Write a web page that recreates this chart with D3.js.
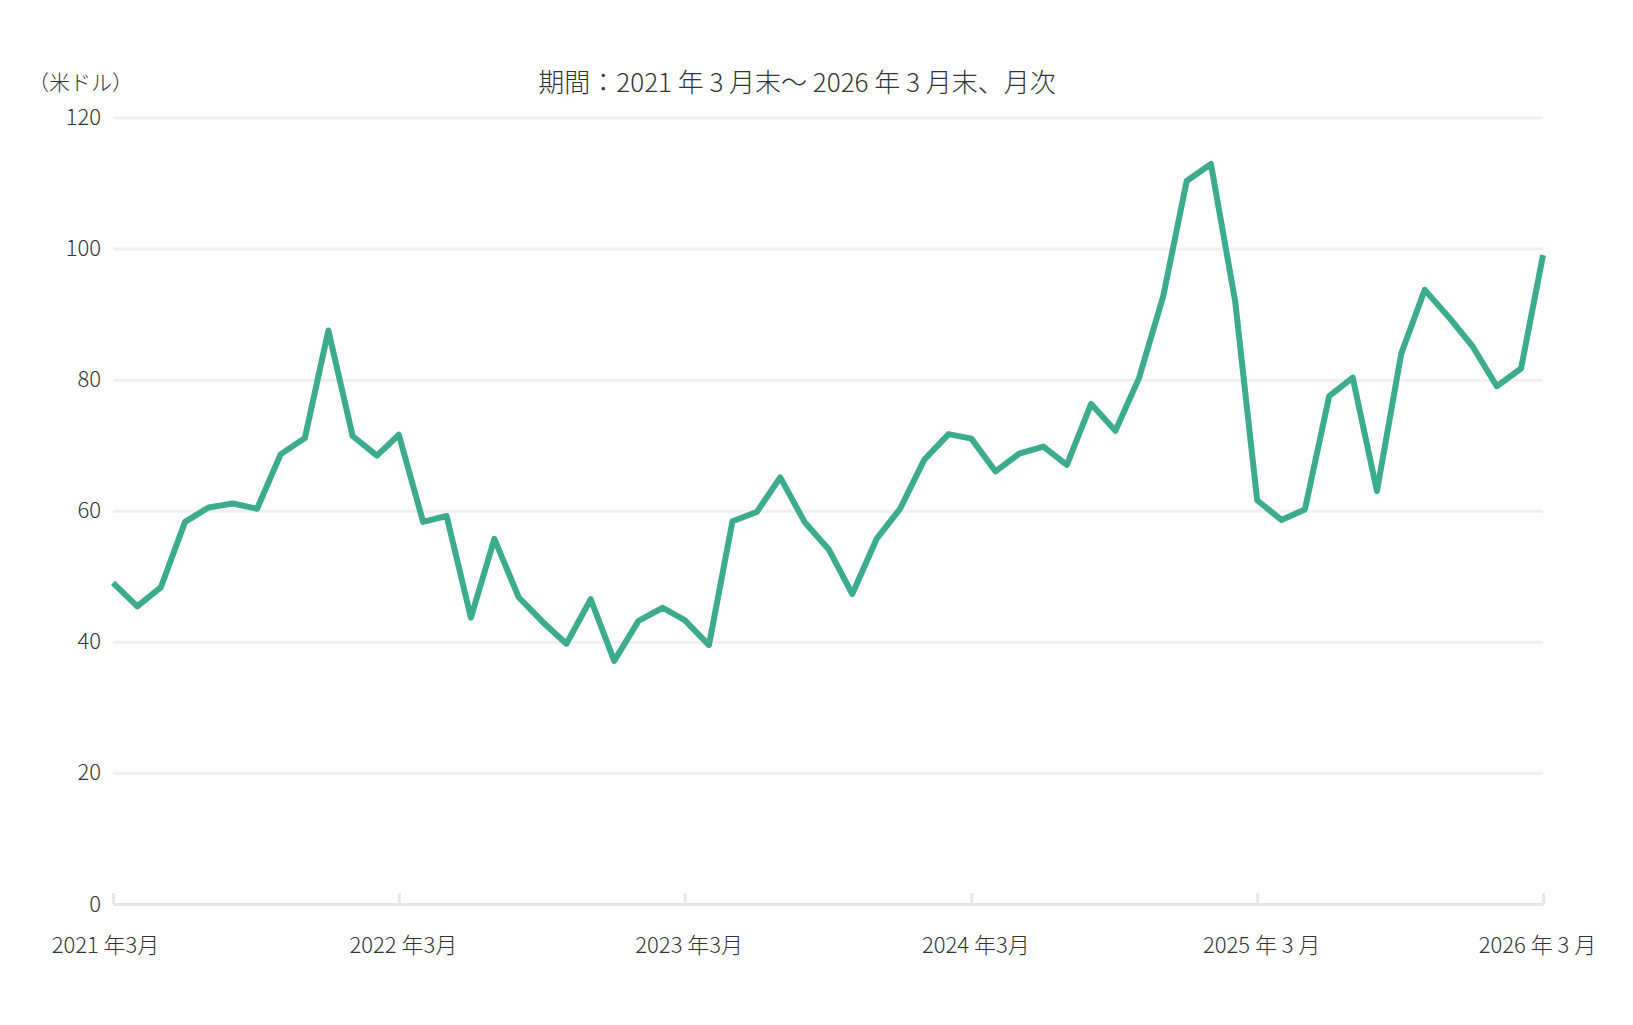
<!DOCTYPE html>
<html lang="ja">
<head>
<meta charset="utf-8">
<script src="https://cdn.jsdelivr.net/npm/d3@7"></script>
<style>
  html, body { margin: 0; padding: 0; background: #fff; }
  svg { display: block; font-family: "Noto Sans CJK JP", "Noto Sans", sans-serif; font-weight: 300; }
</style>
</head>
<body>
<svg id="chart" width="1633" height="1025"></svg>
<script>
/// data: month-end values (US dollars), 2021-03 .. 2026-03
var startMonth = "2021-03", endMonth = "2026-03";
var values = [
  49.0, 45.4, 48.3, 58.3, 60.5, 61.1, 60.3, 68.6, 71.1, 87.5, 71.4, 68.4,
  71.6, 58.3, 59.2, 43.7, 55.7, 46.8, 43.0, 39.7, 46.5, 37.1, 43.2, 45.2,
  43.3, 39.5, 58.4, 59.8, 65.1, 58.3, 54.1, 47.3, 55.7, 60.3, 67.8, 71.7,
  71.0, 66.0, 68.7, 69.8, 67.0, 76.3, 72.2, 80.2, 92.7, 110.3, 112.9, 91.9,
  61.6, 58.6, 60.2, 77.5, 80.3, 63.0, 84.0, 93.7, 89.5, 85.1, 79.0, 81.7,
  99.0
];
var yTicks = [0, 20, 40, 60, 80, 100, 120];
var xTickMonths = ["2021-03", "2022-03", "2023-03", "2024-03", "2025-03", "2026-03"];
var xTickLabels = ["2021 年3月", "2022 年3月", "2023 年3月", "2024 年3月", "2025 年 3 月", "2026 年 3 月"];
var titleText = "期間：2021 年 3 月末～ 2026 年 3 月末、月次";
var unitText = "（米ドル）";

var parse = d3.timeParse("%Y-%m");
var months = d3.timeMonth.range(parse(startMonth), d3.timeMonth.offset(parse(endMonth), 1));
var series = months.map(function(m, i) { return { date: m, value: values[i] }; });

var svg = d3.select("#chart");
// note: "top" is taken by window.top, so plot edges get their own names
var plotLeft = 113, plotRight = 1543, plotTop = 117.5, plotBottom = 904;

var x = d3.scaleTime()
    .domain([parse(startMonth), parse(endMonth)])
    .range([plotLeft, plotRight]);
var y = d3.scaleLinear()
    .domain([0, 120])
    .range([plotBottom, plotTop]);

svg.append("rect").attr("width", 1633).attr("height", 1025).attr("fill", "#fff");

// gridlines + y labels
var gy = svg.append("g")
    .attr("transform", "translate(" + plotLeft + ",0)")
    .call(d3.axisLeft(y).tickValues(yTicks).tickSize(-(plotRight - plotLeft)).tickPadding(12));
gy.select(".domain").remove();
gy.selectAll(".tick line").attr("stroke", "#efefef").attr("stroke-width", 3);
gy.selectAll(".tick text")
    .attr("fill", "#333")
    .style("font-size", "22px")
    .style("font-weight", "300")
    .style("font-family", "'Noto Sans CJK JP', sans-serif");

// x axis with upward ticks
var gx = svg.append("g")
    .attr("transform", "translate(0," + plotBottom + ")")
    .call(d3.axisBottom(x)
      .tickValues(xTickMonths.map(parse))
      .tickFormat(function(d, i) { return xTickLabels[i]; })
      .tickSizeInner(-11)
      .tickSizeOuter(0)
      .tickPadding(33));
gx.select(".domain").attr("stroke", "#e6e6e6").attr("stroke-width", 3);
gx.selectAll(".tick line").attr("stroke", "#e6e6e6").attr("stroke-width", 3);
gx.selectAll(".tick text")
    .attr("fill", "#333")
    .attr("dx", function(d, i) { return i === 0 ? -8 : (i === xTickLabels.length - 1 ? -6 : 4); })
    .style("font-size", "22px")
    .style("font-weight", "300")
    .style("font-family", "'Noto Sans CJK JP', sans-serif");

// the line
var line = d3.line()
    .x(function(d) { return x(d.date); })
    .y(function(d) { return y(d.value); });

svg.append("path")
    .datum(series)
    .attr("d", line)
    .attr("fill", "none")
    .attr("stroke", "#3dab8e")
    .attr("stroke-width", 6)
    .attr("stroke-linejoin", "round")
    .attr("stroke-linecap", "butt");

// title + unit
svg.append("text")
    .attr("x", 797)
    .attr("y", 83)
    .attr("dy", "0.35em")
    .attr("text-anchor", "middle")
    .attr("fill", "#333")
    .style("font-size", "26px")
    .text(titleText);

svg.append("text")
    .attr("x", 28)
    .attr("y", 83)
    .attr("dy", "0.35em")
    .attr("fill", "#333")
    .style("font-size", "21px")
    .text(unitText);
</script>
</body>
</html>
